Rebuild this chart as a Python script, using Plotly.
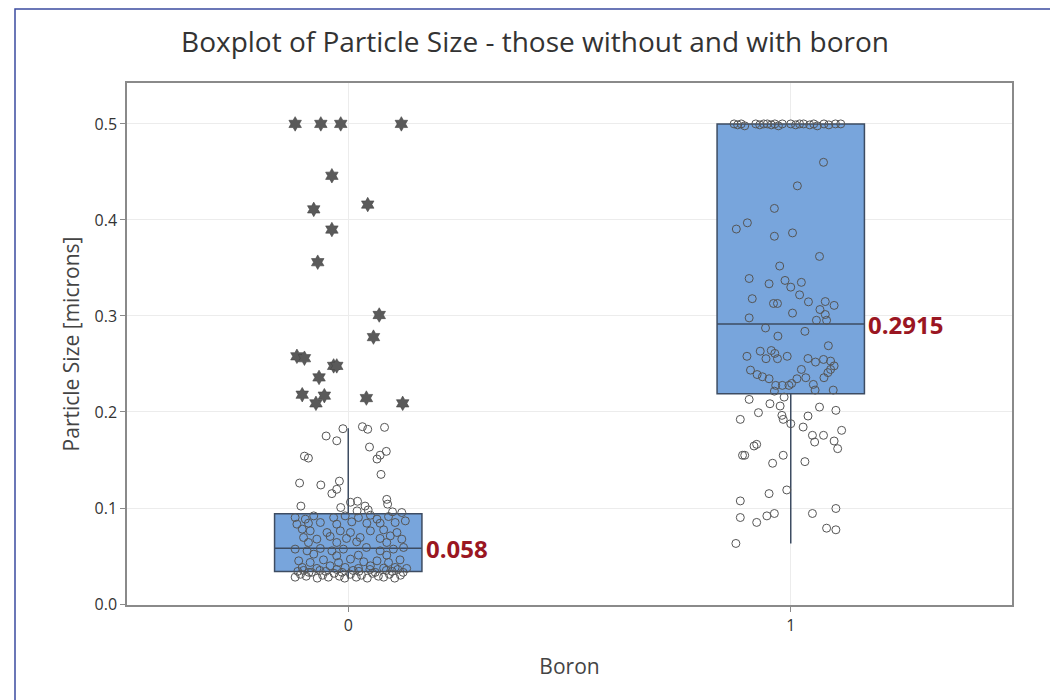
import plotly.graph_objects as go

# ---------------- data ----------------
groups = [0, 1]
q1 = [0.034, 0.219]
median = [0.058, 0.2915]
q3 = [0.094, 0.500]
lower_whisker = [0.026, 0.063]
upper_whisker = [0.183, 0.500]
median_labels = ["0.058", "0.2915"]

# Boron = 0 : outliers (stars) - horizontal jitter offset and value
g0_out_dx = [-0.120, -0.062, -0.017, 0.120, -0.037, 0.044, -0.078, -0.037, -0.069, 0.070,
             0.057, -0.116, -0.099, -0.033, -0.026, -0.066, -0.104, -0.054, -0.073, 0.041, 0.123]
g0_out_y = [0.500, 0.500, 0.500, 0.500, 0.446, 0.416, 0.411, 0.390, 0.356, 0.301,
            0.278, 0.258, 0.256, 0.248, 0.248, 0.236, 0.218, 0.217, 0.209, 0.2145, 0.209]

# Boron = 0 : other observations (open circles)
g0_dx = [-0.012, 0.032, 0.044, 0.082, -0.050, -0.026, -0.099, -0.090, 0.048, 0.086,
         0.072, 0.065, 0.074, -0.110, -0.062, -0.020, -0.026, -0.037, -0.107, -0.017,
         0.005, 0.021, 0.038, 0.087, 0.089, 0.020, 0.045, 0.100,
         -0.120, -0.097, -0.078, -0.033, -0.007, 0.023, 0.050, 0.065, 0.091, 0.121,
         -0.116, -0.090, -0.063, -0.026, 0.008, 0.042, 0.072, 0.106, 0.129,
         -0.104, -0.086, -0.048, -0.018, 0.005, 0.050, 0.080, 0.110,
         -0.101, -0.071, -0.041, -0.004, 0.027, 0.072, 0.095, 0.121,
         -0.090, -0.026, 0.019, 0.087,
         -0.120, -0.093, -0.063, -0.037, -0.011, 0.041, 0.072, 0.102, 0.125,
         -0.078, -0.026, 0.023, 0.087,
         -0.112, -0.086, -0.056, -0.022, 0.005, 0.035, 0.065, 0.091, 0.117,
         -0.104, -0.071, -0.041, -0.007, 0.023, 0.050, 0.080, 0.106, 0.132,
         -0.120, -0.108, -0.095, -0.083, -0.070, -0.058, -0.045, -0.032, -0.020, -0.008,
         0.005, 0.018, 0.030, 0.043, 0.055, 0.068, 0.080, 0.093, 0.105, 0.118,
         -0.114, -0.101, -0.089, -0.064, -0.051, -0.026, -0.014, 0.011, 0.024, 0.049,
         0.061, 0.086, 0.099, 0.112, 0.124]
g0_y = [0.1826, 0.1847, 0.182, 0.184, 0.175, 0.170, 0.154, 0.152, 0.1635, 0.159,
        0.155, 0.151, 0.135, 0.126, 0.124, 0.128, 0.1195, 0.115, 0.102, 0.1005,
        0.106, 0.107, 0.102, 0.109, 0.104, 0.097, 0.098, 0.096,
        0.0901, 0.0884, 0.0918, 0.0901, 0.0918, 0.0901, 0.0925, 0.0884, 0.0911, 0.0953,
        0.0832, 0.0842, 0.0849, 0.0832, 0.0856, 0.0842, 0.0842, 0.0849, 0.0866,
        0.078, 0.0762, 0.0745, 0.0762, 0.0745, 0.0762, 0.0773, 0.0745,
        0.0693, 0.0676, 0.0704, 0.0683, 0.0693, 0.0683, 0.071, 0.0676,
        0.0641, 0.0641, 0.0648, 0.0641,
        0.0572, 0.0554, 0.0579, 0.0554, 0.0572, 0.0589, 0.0554, 0.0572, 0.0589,
        0.052, 0.0502, 0.0509, 0.0509,
        0.045, 0.0433, 0.046, 0.0433, 0.0468, 0.044, 0.045, 0.0433, 0.046,
        0.0381, 0.0371, 0.0398, 0.0381, 0.0371, 0.0398, 0.0374, 0.0381, 0.0371,
        0.028, 0.031, 0.029, 0.033, 0.027, 0.030, 0.028, 0.032, 0.029, 0.027,
        0.031, 0.028, 0.030, 0.027, 0.032, 0.029, 0.028, 0.031, 0.027, 0.030,
        0.034, 0.035, 0.033, 0.035, 0.034, 0.036, 0.033, 0.035, 0.034, 0.036,
        0.033, 0.035, 0.034, 0.036, 0.033]

# Boron = 1 : observations (open circles)
g1_dx = [-0.128, -0.120, -0.112, -0.104, -0.079, -0.070, -0.061, -0.053, -0.044, -0.036,
         -0.028, -0.019, 0.000, 0.011, 0.020, 0.029, 0.043, 0.052, 0.060, 0.075, 0.086, 0.101, 0.113,
         0.074, 0.015, -0.037, -0.098, -0.123, -0.037, 0.004, 0.065, -0.025, -0.094,
         -0.049, -0.013, 0.000, 0.024, -0.087, 0.020, 0.040, -0.039, -0.030, 0.078, 0.098,
         0.066, 0.078, 0.081, 0.058, 0.004, -0.094,
         -0.057, 0.032, -0.029, 0.085, -0.069, -0.044, -0.036, -0.099, -0.056, -0.030,
         -0.008, 0.039, 0.056, 0.074, 0.090, 0.098, 0.090, 0.084, 0.075, -0.091, -0.076,
         -0.064, -0.049, 0.024, 0.014, 0.034, 0.002, -0.004, -0.019, -0.034, 0.051,
         -0.037, 0.055, 0.096,
         -0.015, -0.094, -0.047, -0.024, -0.073, -0.114, -0.020, -0.017, 0.000, 0.065,
         0.102, 0.039, 0.028, 0.115, 0.049, 0.054, 0.074, 0.098, 0.106, -0.083, -0.077,
         -0.109, -0.104, -0.017, -0.041, 0.032, -0.009, -0.049, -0.114, 0.102, 0.049,
         -0.037, -0.054, -0.114, -0.077, 0.081, 0.102, -0.124]
g1_y = [0.500, 0.499, 0.500, 0.498, 0.500, 0.499, 0.500, 0.500, 0.499, 0.500,
        0.498, 0.500, 0.500, 0.499, 0.500, 0.500, 0.499, 0.500, 0.498, 0.500, 0.499, 0.500, 0.500,
        0.460, 0.4355, 0.412, 0.397, 0.3905, 0.383, 0.3865, 0.362, 0.352, 0.339,
        0.3335, 0.337, 0.330, 0.335, 0.318, 0.322, 0.3147, 0.313, 0.313, 0.315, 0.311,
        0.3067, 0.3015, 0.2955, 0.2955, 0.303, 0.298,
        0.2875, 0.284, 0.279, 0.269, 0.2633, 0.264, 0.261, 0.258, 0.2555, 0.2555,
        0.258, 0.2557, 0.252, 0.2547, 0.253, 0.248, 0.2443, 0.241, 0.2357, 0.2436, 0.239,
        0.2367, 0.2346, 0.2443, 0.2346, 0.2357, 0.2297, 0.2277, 0.2277, 0.2277, 0.2287,
        0.2217, 0.2228, 0.2228,
        0.2155, 0.2131, 0.2086, 0.2062, 0.1993, 0.1923, 0.1965, 0.1923, 0.1878, 0.2051,
        0.2017, 0.1958, 0.1843, 0.1809, 0.1757, 0.1687, 0.1757, 0.1698, 0.1618, 0.1646, 0.1663,
        0.1549, 0.1549, 0.1549, 0.1466, 0.1483, 0.1188, 0.115, 0.1074, 0.0995, 0.0943,
        0.0943, 0.0918, 0.0901, 0.085, 0.079, 0.0773, 0.0631]

# ---------------- styling ----------------
BOX_FILL = "#78a5dc"
BOX_LINE = "#3d4c62"
PT_COLOR = "#555555"
LABEL_RED = "#9a1622"
FONT = "Open Sans"

fig = go.Figure()

fig.add_trace(go.Box(
    x=groups, q1=q1, median=median, q3=q3,
    lowerfence=lower_whisker, upperfence=upper_whisker,
    width=0.333, whiskerwidth=0,
    fillcolor=BOX_FILL, line=dict(color=BOX_LINE, width=1.5),
    boxpoints=False, hoverinfo="skip", showlegend=False,
))

fig.add_trace(go.Scatter(
    x=[groups[0] + d for d in g0_dx], y=g0_y, mode="markers",
    marker=dict(symbol="circle-open", size=8, color=PT_COLOR, line=dict(width=1, color=PT_COLOR)),
    showlegend=False, hoverinfo="y",
))
fig.add_trace(go.Scatter(
    x=[groups[1] + d for d in g1_dx], y=g1_y, mode="markers",
    marker=dict(symbol="circle-open", size=8, color=PT_COLOR, line=dict(width=1, color=PT_COLOR)),
    showlegend=False, hoverinfo="y",
))
fig.add_trace(go.Scatter(
    x=[groups[0] + d for d in g0_out_dx], y=g0_out_y, mode="markers",
    marker=dict(symbol="hexagram", size=11, color="#5a5a5a", line=dict(width=0.6, color="#444444")),
    showlegend=False, hoverinfo="y",
))

for g, m, lab in zip(groups, median, median_labels):
    fig.add_annotation(x=g + 0.1665, y=m, text=f"<b>{lab}</b>", showarrow=False,
                       xanchor="left", yanchor="middle", xshift=2,
                       font=dict(family=FONT, size=24, color=LABEL_RED))

L, R, T, B = 127, 38, 83, 95
W, H = 1050, 700
pw, ph = W - L - R, H - T - B

def px_x(p):
    return (p - L) / pw

def px_y(p):
    return (H - B - p) / ph

fig.add_shape(type="rect", xref="paper", yref="paper",
              x0=px_x(15), x1=px_x(1065), y0=px_y(715), y1=px_y(9),
              line=dict(color="#3b4ba0", width=1.5), fillcolor="rgba(0,0,0,0)", layer="above")

fig.update_layout(
    width=W, height=H,
    margin=dict(l=L, r=R, t=T, b=B),
    paper_bgcolor="white", plot_bgcolor="white",
    font=dict(family=FONT, color="#333333"),
    title=dict(text="Boxplot of Particle Size - those without and with boron",
               x=535 / W, xref="container", xanchor="center",
               y=1 - 42 / H, yref="container", yanchor="middle",
               font=dict(family=FONT, size=28, color="#333333")),
    xaxis=dict(range=[-0.5, 1.5], tickvals=groups, ticktext=["0", "1"],
               showgrid=True, gridcolor="#ececec", gridwidth=1, zeroline=False,
               showline=True, mirror=True, linecolor="#8a8a8a", linewidth=1.5,
               ticks="outside", ticklen=5, tickcolor="#8a8a8a",
               tickfont=dict(size=16, color="#333333"),
               title=dict(text="Boron", font=dict(size=21, color="#444444"), standoff=24)),
    yaxis=dict(range=[-0.001, 0.5426], tickvals=[0, 0.1, 0.2, 0.3, 0.4, 0.5],
               tickformat=".1f",
               showgrid=True, gridcolor="#ececec", gridwidth=1, zeroline=False,
               showline=True, mirror=True, linecolor="#8a8a8a", linewidth=1.5,
               ticks="outside", ticklen=5, tickcolor="#8a8a8a",
               tickfont=dict(size=16, color="#333333"),
               title=dict(text="Particle Size [microns]", font=dict(size=21, color="#444444"), standoff=9)),
)

fig.write_html("out.html")
